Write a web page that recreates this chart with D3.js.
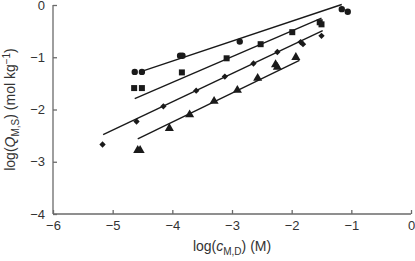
<!DOCTYPE html>
<html>
<head>
<meta charset="utf-8">
<script src="https://cdn.jsdelivr.net/npm/d3@7"></script>
<style>
  body { margin: 0; background: #fff; }
  svg { font-family: "Liberation Sans", Arial, sans-serif; }
  .axis path, .axis line { stroke: #6a6a6a; stroke-width: 1.3; }
  .axis text { fill: #333; font-size: 13px; }
  .fit { fill: none; stroke: #1a1a1a; stroke-width: 1.4; }
  .mark { fill: #1a1a1a; }
  .label { fill: #333; font-size: 14px; }
</style>
</head>
<body>
<div id="chart"></div>
<script>
//Chart values

var xTicks = [-6, -5, -4, -3, -2, -1, 0];
var yTicks = [0, -1, -2, -3, -4];

//circles
var circleX = [-4.63, -4.51, -3.87, -3.83, -2.87, -1.16, -1.06];
var circleY = [-1.28, -1.28, -0.97, -0.97, -0.70, -0.08, -0.13];
var circleFitX = [-4.49, -1.16];
var circleFitY = [-1.26, 0.01];

//squares
var squareX = [-4.64, -4.51, -3.84, -3.09, -2.52, -1.99, -1.53, -1.50];
var squareY = [-1.59, -1.59, -1.29, -1.02, -0.75, -0.52, -0.33, -0.37];
var squareFitX = [-4.63, -1.50];
var squareFitY = [-1.79, -0.25];

//diamonds
var diamondX = [-5.17, -4.60, -4.15, -3.60, -3.12, -2.64, -2.24, -1.85, -1.81, -1.50];
var diamondY = [-2.67, -2.23, -1.94, -1.64, -1.37, -1.12, -0.90, -0.71, -0.75, -0.59];
var diamondFitX = [-5.16, -1.48];
var diamondFitY = [-2.48, -0.49];

//triangles
var triangleX = [-4.58, -4.54, -4.05, -3.71, -3.30, -2.91, -2.57, -2.27, -2.24, -1.93];
var triangleY = [-2.78, -2.78, -2.36, -2.10, -1.84, -1.63, -1.40, -1.14, -1.19, -1.00];
var triangleFitX = [-4.58, -1.87];
var triangleFitY = [-2.56, -1.06];

var margin = {top: 5, right: 4, bottom: 47, left: 53};
var width = 415 - margin.left - margin.right;
var height = 261 - margin.top - margin.bottom;

var svg = d3.select("#chart")
            .append("svg")
            .attr("width", 415)
            .attr("height", 261)
            .append("g")
            .attr("transform", "translate(" + margin.left + "," + margin.top + ")");

var x = d3.scaleLinear().domain([-6, 0]).range([0, width]);
var y = d3.scaleLinear().domain([-4, 0]).range([height, 0]);

var minus = function(v) { return String(v).replace("-", "\u2212"); };

svg.append("g")
   .attr("class", "axis")
   .attr("transform", "translate(0," + height + ")")
   .call(d3.axisBottom(x).tickValues(xTicks).tickSize(-4).tickSizeOuter(0).tickPadding(7).tickFormat(minus))
   .call(function(g) { g.select(".domain").remove(); })
   .call(function(g) {
       g.append("line").attr("x1", 0).attr("x2", width).attr("stroke", "#6a6a6a").attr("stroke-width", 1.3);
   });

svg.append("g")
   .attr("class", "axis")
   .call(d3.axisLeft(y).tickValues(yTicks).tickSize(-4).tickSizeOuter(0).tickPadding(8).tickFormat(minus))
   .call(function(g) { g.select(".domain").remove(); })
   .call(function(g) {
       g.append("line").attr("y1", 0).attr("y2", height).attr("stroke", "#6a6a6a").attr("stroke-width", 1.3);
   });
svg.selectAll(".axis text").attr("fill", "#333").style("font-size", "13px");

//fitted lines
var fits = [[circleFitX, circleFitY], [squareFitX, squareFitY], [diamondFitX, diamondFitY], [triangleFitX, triangleFitY]];
var line = d3.line().x(function(d) { return x(d[0]); }).y(function(d) { return y(d[1]); });

svg.append("g")
   .selectAll("path")
   .data(fits)
   .enter()
   .append("path")
   .attr("class", "fit")
   .attr("d", function(f) { return line(d3.zip(f[0], f[1])); });

//markers
function drawMarks(xs, ys, type, size, rot) {
    svg.append("g")
       .selectAll("path")
       .data(d3.zip(xs, ys))
       .enter()
       .append("path")
       .attr("class", "mark")
       .attr("transform", function(d) { return "translate(" + x(d[0]) + "," + y(d[1]) + ") rotate(" + (rot || 0) + ")"; })
       .attr("d", d3.symbol().type(type).size(size));
}

drawMarks(circleX, circleY, d3.symbolCircle, 32);
drawMarks(squareX, squareY, d3.symbolSquare, 36);
drawMarks(diamondX, diamondY, d3.symbolSquare, 20, 45);
drawMarks(triangleX, triangleY, d3.symbolTriangle, 36);

//axis labels
var xl = svg.append("text")
            .attr("class", "label")
            .attr("x", x(-3))
            .attr("y", height + 37)
            .attr("text-anchor", "middle");
xl.append("tspan").text("log(");
xl.append("tspan").attr("font-style", "italic").text("c");
xl.append("tspan").attr("font-size", "10px").attr("dy", 4).text("M,D");
xl.append("tspan").attr("dy", -4).text(") (M)");

var yl = svg.append("text")
            .attr("class", "label")
            .attr("transform", "translate(" + (-38) + "," + y(-2) + ") rotate(-90)")
            .attr("text-anchor", "middle");
yl.append("tspan").text("log(");
yl.append("tspan").attr("font-style", "italic").text("Q");
yl.append("tspan").attr("font-size", "10px").attr("dy", 4).text("M,S");
yl.append("tspan").attr("dy", -4).text(") (mol kg");
yl.append("tspan").attr("font-size", "10px").attr("dy", -5).text("\u22121");
yl.append("tspan").attr("dy", 5).text(")");
</script>
</body>
</html>
